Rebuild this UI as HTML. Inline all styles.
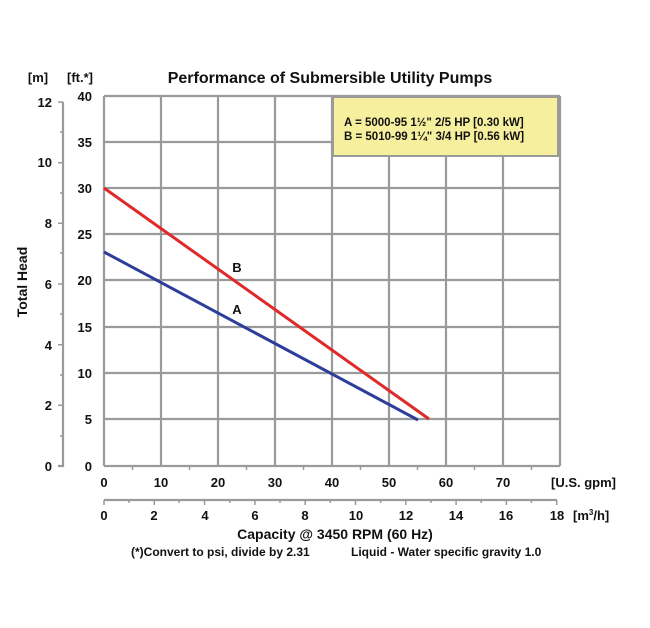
<!DOCTYPE html>
<html><head><style>body{margin:0;background:#fff}svg text{font-family:"Liberation Sans",sans-serif;font-weight:bold;fill:#111}</style></head><body>
<svg width="650" height="623" xmlns="http://www.w3.org/2000/svg">
<text x="330" y="83" font-size="16" text-anchor="middle">Performance of Submersible Utility Pumps</text>
<text x="38" y="82" font-size="13" text-anchor="middle">[m]</text>
<text x="80" y="82" font-size="13" text-anchor="middle">[ft.*]</text>
<g stroke="#9a9a9a" stroke-width="2.2" fill="none">
<path d="M104 96V466M161 96V466M218 96V466M275 96V466M332 96V466M389 96V466M446 96V466M503 96V466M560 96V466"/>
<path d="M104 96H560M104 142H560M104 188H560M104 234H560M104 280H560M104 327H560M104 373H560M104 419H560M104 466H560"/>
<path d="M63 102V466H58M104 500H557"/>
</g>
<g stroke="#9a9a9a" stroke-width="1.5">
<path d="M58 102H63M58 162.7H63M58 223.3H63M58 284H63M58 344.7H63M58 405.3H63M60 132H63M60 193H63M60 253H63M60 314H63M60 375H63M60 436H63"/>
<path d="M132.5 466v4M189.5 466v4M246.5 466v4M303.5 466v4M360.5 466v4M417.5 466v4M474.5 466v4M531.5 466v4"/>
<path d="M104 500v5M154.3 500v5M204.6 500v5M254.9 500v5M305.2 500v5M355.5 500v5M405.8 500v5M456.1 500v5M506.4 500v5M556.7 500v5M129 500v3M179 500v3M229.8 500v3M280 500v3M330.3 500v3M380.6 500v3M431 500v3M481.2 500v3M531.5 500v3"/>
</g>
<rect x="333" y="97" width="225" height="59" fill="#f6ef9e" stroke="#9a9a9a" stroke-width="2"/>
<text x="344" y="126" font-size="11.5">A = 5000-95 1½" 2/5 HP [0.30 kW]</text>
<text x="344" y="140" font-size="11.5">B = 5010-99 1¼" 3/4 HP [0.56 kW]</text>
<line x1="104" y1="188" x2="429" y2="419" stroke="#e02a2a" stroke-width="3"/>
<line x1="104" y1="252" x2="418" y2="420" stroke="#2c3e99" stroke-width="3"/>
<text x="237" y="272" font-size="13" text-anchor="middle">B</text>
<text x="237" y="314" font-size="13" text-anchor="middle">A</text>
<g font-size="13" text-anchor="end">
<text x="92" y="101">40</text><text x="92" y="147">35</text><text x="92" y="193">30</text><text x="92" y="239">25</text><text x="92" y="285">20</text><text x="92" y="332">15</text><text x="92" y="378">10</text><text x="92" y="424">5</text><text x="92" y="471">0</text>
<text x="52" y="107">12</text><text x="52" y="167">10</text><text x="52" y="228">8</text><text x="52" y="289">6</text><text x="52" y="350">4</text><text x="52" y="410">2</text><text x="52" y="471">0</text>
</g>
<g font-size="13" text-anchor="middle">
<text x="104" y="487">0</text><text x="161" y="487">10</text><text x="218" y="487">20</text><text x="275" y="487">30</text><text x="332" y="487">40</text><text x="389" y="487">50</text><text x="446" y="487">60</text><text x="503" y="487">70</text>
<text x="104" y="520">0</text><text x="154" y="520">2</text><text x="205" y="520">4</text><text x="255" y="520">6</text><text x="305" y="520">8</text><text x="356" y="520">10</text><text x="406" y="520">12</text><text x="456" y="520">14</text><text x="506" y="520">16</text><text x="557" y="520">18</text>
</g>
<text x="551" y="487" font-size="13">[U.S. gpm]</text>
<text x="573" y="520" font-size="13">[m<tspan font-size="8" dy="-5">3</tspan><tspan dy="5">/h]</tspan></text>
<text x="335" y="539" font-size="14" text-anchor="middle">Capacity @ 3450 RPM (60 Hz)</text>
<text x="131" y="556" font-size="12">(*)Convert to psi, divide by 2.31</text>
<text x="351" y="556" font-size="12">Liquid - Water specific gravity 1.0</text>
<text transform="translate(27 282) rotate(-90)" font-size="14" text-anchor="middle">Total Head</text>
</svg>
</body></html>
